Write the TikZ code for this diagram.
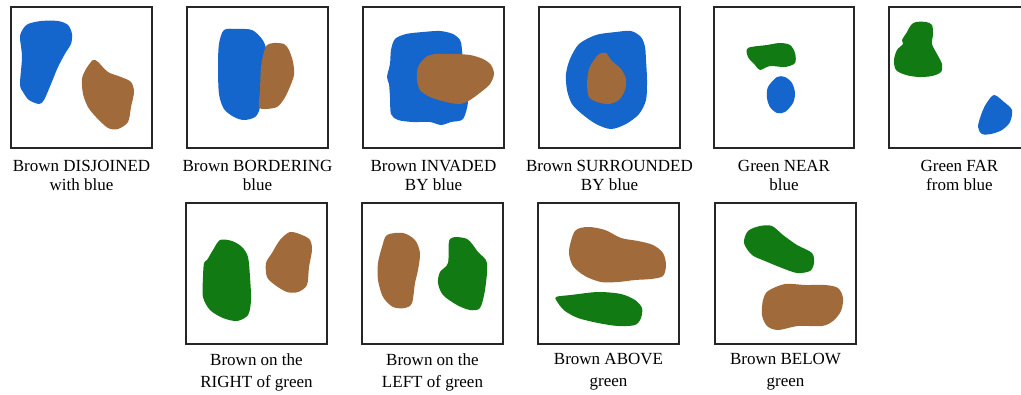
\documentclass[tikz,border=0pt]{standalone}
\usepackage{fontspec}
\setmainfont{Liberation Serif}
\definecolor{cblue}{RGB}{20,102,204}
\definecolor{cbrown}{RGB}{160,106,58}
\definecolor{cgreen}{RGB}{18,122,18}
\begin{document}
\begin{tikzpicture}[x=1pt,y=-1pt,
  frame/.style={draw=black!85,line width=1.1pt},
  blob/.style={smooth cycle,tension=0.5},
  lab/.style={anchor=north,align=center,inner sep=0pt,font=\fontsize{17}{19}\selectfont},
  labb/.style={anchor=north,align=center,inner sep=0pt,font=\fontsize{17}{22}\selectfont}]
\useasboundingbox (0,0) rectangle (1021,394);
\fill[white] (0,0) rectangle (1021,394);
% frames row 1
\draw[frame] (11,7) rectangle (152,148);
\draw[frame] (187,7) rectangle (328,148);
\draw[frame] (363,7) rectangle (504,148);
\draw[frame] (539,7) rectangle (680,148);
\draw[frame] (714,7) rectangle (854,148);
\begin{scope}
\clip (0,0) rectangle (1021,394);
\draw[frame] (889,7) rectangle (1030,148);
\end{scope}
% frames row 2
\draw[frame] (186,203) rectangle (327,344);
\draw[frame] (362,203) rectangle (503,344);
\draw[frame] (538,203) rectangle (679,344);
\draw[frame] (715,203) rectangle (856,344);
% box 1
\fill[cblue] plot[blob] coordinates {(28,24) (41,21) (58,21) (68,25) (72,34) (71,44) (66,52) (58,67) (51,84) (44,100) (39,104) (29,100) (23,92) (20,84) (22,57) (20,37) (23,29)};
\fill[cbrown] plot[blob] coordinates {(93,60) (98,62) (108,72) (121,77) (131,82) (134,92) (131,107) (128,122) (118,129) (108,128) (96,117) (88,107) (83,94) (82,79) (86,69)};
% box 2
\fill[cblue] plot[blob] coordinates {(224,30) (237,29) (252,30) (262,39) (266,49) (264,64) (261,80) (260,107) (255,117) (244,120) (234,117) (224,109) (219,94) (218,67) (219,44)};
\fill[cbrown] plot[blob] coordinates {(267,45) (274,43) (284,44) (289,50) (293,62) (294,75) (289,89) (284,99) (277,107) (265,109) (259,107) (260,90) (261,67) (264,52)};
% box 3
\fill[cblue] plot[blob] coordinates {(395,39) (406,34) (423,32) (440,31) (453,34) (460,40) (462,50) (465,90) (468,102) (463,119) (451,122) (441,125) (430,122) (413,122) (398,120) (391,114) (390,97) (389,84) (387,77) (390,64) (391,50)};
\fill[cbrown] plot[blob] coordinates {(426,57) (436,54) (453,54) (470,55) (483,59) (491,65) (494,74) (490,84) (481,92) (470,100) (460,104) (446,102) (430,97) (420,90) (417,80) (418,67)};
% box 4
\fill[cblue] plot[blob] coordinates {(579,44) (596,35) (616,32) (631,31) (641,37) (645,47) (646,60) (647,80) (646,100) (639,114) (626,124) (611,129) (596,124) (582,114) (572,104) (567,90) (566,74) (570,59)};
\fill[cbrown] plot[blob] coordinates {(599,54) (606,53) (611,60) (621,69) (626,79) (625,90) (619,100) (609,104) (597,102) (589,97) (587,84) (589,69) (594,60)};
% box 5
\fill[cgreen] plot[blob] coordinates {(748,48) (767,45) (780,43) (790,45) (795,53) (795,63) (785,67) (770,66) (760,70) (755,65) (748,57)};
\fill[cblue] plot[blob] coordinates {(777,77) (785,77) (792,83) (795,93) (793,103) (785,112) (777,113) (770,107) (767,98) (768,87)};
% box 6
\fill[cgreen] plot[blob] coordinates {(916,22) (926,22) (932,25) (933,34) (932,44) (937,54) (942,64) (941,72) (932,76) (919,77) (906,75) (896,70) (894,60) (897,50) (903,44) (902,40) (907,32) (911,25)};
\fill[cblue] plot[blob] coordinates {(994,95) (1004,102) (1012,110) (1010,122) (1002,130) (991,134) (982,134) (978,127) (981,115) (986,104)};
% box 7
\fill[cgreen] plot[blob] coordinates {(220,240) (232,241) (242,247) (248,257) (250,277) (251,300) (248,315) (237,321) (223,318) (210,310) (203,297) (203,277) (204,263) (207,260) (213,250)};
\fill[cbrown] plot[blob] coordinates {(290,232) (302,235) (310,240) (312,250) (309,267) (307,285) (298,292) (287,292) (275,285) (267,277) (266,263) (272,253) (280,240)};
% box 8
\fill[cbrown] plot[blob] coordinates {(387,235) (403,233) (415,240) (420,253) (418,270) (415,283) (412,303) (405,308) (393,307) (383,297) (378,280) (378,263) (382,247)};
\fill[cgreen] plot[blob] coordinates {(450,239) (467,239) (478,252) (487,263) (485,290) (480,308) (470,310) (457,305) (443,295) (438,283) (440,272) (448,263)};
% box 9
\fill[cbrown] plot[blob] coordinates {(575,231) (588,227) (605,230) (621,238) (638,241) (653,245) (663,253) (666,265) (663,276) (651,279) (635,280) (618,282) (601,282) (585,276) (573,266) (569,251)};
\fill[cgreen] plot[blob] coordinates {(556,297) (571,295) (598,292) (621,294) (635,300) (642,308) (641,318) (635,325) (618,326) (598,323) (578,318) (565,311) (558,303)};
% box 10
\fill[cgreen] plot[blob] coordinates {(748,231) (760,226) (772,226) (783,235) (797,245) (812,253) (814,263) (810,271) (797,273) (782,268) (765,261) (752,255) (744,243)};
\fill[cbrown] plot[blob] coordinates {(768,291) (785,284) (805,285) (825,285) (838,288) (843,298) (841,311) (833,321) (822,326) (798,326) (778,330) (767,326) (762,315) (763,300)};
% labels
\node[lab] (l1) at (81.5,160.5) {Brown DISJOINED\\with blue};
\node[lab] (l2) at (257.5,160.5) {Brown BORDERING\\blue};
\node[lab] (l3) at (433.5,160.5) {Brown INVADED\\BY blue};
\node[lab] (l4) at (609.5,160.5) {Brown SURROUNDED\\BY blue};
\node[lab] (l5) at (784,160.5) {Green NEAR\\blue};
\node[lab] (l6) at (959.5,160.5) {Green FAR\\from blue};
\node[labb] (l7) at (256.5,353) {Brown on the\\RIGHT of green};
\node[labb] (l8) at (432.5,353) {Brown on the\\LEFT of green};
\node[labb] (l9) at (608.5,353) {Brown ABOVE\\green};
\node[labb] (l10) at (785.5,353) {Brown BELOW\\green};
\end{tikzpicture}
\end{document}
